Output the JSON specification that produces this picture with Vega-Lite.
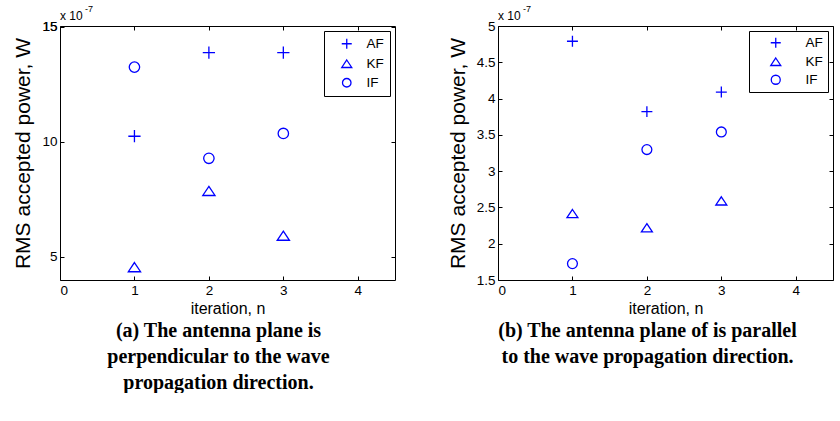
{
  "$schema": "https://vega.github.io/schema/vega-lite/v6.json",
  "padding": {"left": 12, "top": 4, "right": 0, "bottom": 0},
  "background": "white",
  "datasets": {
    "a": [
      {"n": 1, "series": "AF", "power": 10.24},
      {"n": 2, "series": "AF", "power": 13.88},
      {"n": 3, "series": "AF", "power": 13.88},
      {"n": 1, "series": "KF", "power": 4.54},
      {"n": 2, "series": "KF", "power": 7.86},
      {"n": 3, "series": "KF", "power": 5.91},
      {"n": 1, "series": "IF", "power": 13.25},
      {"n": 2, "series": "IF", "power": 9.28},
      {"n": 3, "series": "IF", "power": 10.36}
    ],
    "b": [
      {"n": 1, "series": "AF", "power": 4.79},
      {"n": 2, "series": "AF", "power": 3.82},
      {"n": 3, "series": "AF", "power": 4.09},
      {"n": 1, "series": "KF", "power": 2.415},
      {"n": 2, "series": "KF", "power": 2.22},
      {"n": 3, "series": "KF", "power": 2.59},
      {"n": 1, "series": "IF", "power": 1.726},
      {"n": 2, "series": "IF", "power": 3.297},
      {"n": 3, "series": "IF", "power": 3.54}
    ],
    "exp": [{"base": "x 10", "sup": "-7"}]
  },
  "config": {
    "view": {"stroke": "black", "strokeWidth": 1},
    "font": "Liberation Sans",
    "axis": {
      "domain": false,
      "grid": false,
      "tickColor": "black",
      "tickSize": -4,
      "labelColor": "black",
      "labelFont": "Liberation Sans",
      "labelFontSize": 13.5,
      "labelPadding": 7,
      "labelOverlap": false,
      "titleFont": "Liberation Sans",
      "titleFontWeight": "normal",
      "titleColor": "black"
    },
    "legend": {
      "strokeColor": "black",
      "fillColor": "white",
      "labelFont": "Liberation Sans",
      "labelFontSize": 13.5,
      "labelColor": "black",
      "symbolStrokeWidth": 1.3,
      "cornerRadius": 0
    },
    "title": {
      "font": "Liberation Serif",
      "fontWeight": "bold",
      "fontSize": 20,
      "lineHeight": 26,
      "color": "black",
      "orient": "bottom",
      "anchor": "middle"
    },
    "concat": {"spacing": 50}
  },
  "resolve": {"scale": {"shape": "independent"}, "legend": {"shape": "independent"}},
  "hconcat": [
    {
      "width": 335,
      "height": 254,
      "title": {"text": ["(a) The antenna plane is", "perpendicular to the wave", "propagation direction."], "dx": -9, "offset": 4},
      "resolve": {"axis": {"x": "independent", "y": "independent"}},
      "layer": [
        {
          "data": {"name": "a"},
          "mark": {"type": "point", "filled": false, "color": "#0000ff", "strokeWidth": 1.3, "size": 150, "opacity": 1},
          "encoding": {
            "x": {"field": "n", "type": "quantitative", "scale": {"domain": [0, 4.5], "nice": false, "zero": false},
                  "axis": {"values": [0, 1, 2, 3, 4], "title": "iteration, n", "titleFontSize": 16, "titlePadding": 4}},
            "y": {"field": "power", "type": "quantitative", "scale": {"domain": [3.98, 15.04], "nice": false, "zero": false},
                  "axis": {"values": [5, 10, 15], "format": "d", "title": "RMS accepted power, W", "titleFontSize": 21, "titlePadding": 8}},
            "shape": {"field": "series", "type": "nominal",
                      "scale": {"domain": ["AF", "KF", "IF"], "range": ["M-1,0L1,0M0,-1L0,1", "M0,-0.75L1,0.75L-1,0.75Z", "M0.85,0A0.85,0.85 0 1,1 -0.85,0A0.85,0.85 0 1,1 0.85,0Z"]},
                      "legend": {"title": null, "orient": "top-right", "offset": 5, "padding": 6, "symbolOffset": 10, "labelOffset": 13, "rowPadding": 4}}
          }
        },
        {
          "data": {"name": "exp"},
          "mark": {"type": "text", "align": "left", "baseline": "bottom", "dy": -3, "fontSize": 12, "color": "black"},
          "encoding": {
            "x": {"datum": 0, "type": "quantitative", "axis": {"orient": "top", "values": [0, 1, 2, 3, 4], "labels": false, "title": null}},
            "y": {"datum": 15.04, "type": "quantitative", "axis": {"orient": "left", "values": [15], "format": "d", "ticks": false, "labelPadding": 3, "title": null}},
            "text": {"field": "base"}
          }
        },
        {
          "data": {"name": "exp"},
          "mark": {"type": "text", "align": "left", "baseline": "bottom", "dx": 25, "dy": -12, "fontSize": 9, "color": "black"},
          "encoding": {
            "x": {"datum": 0, "type": "quantitative", "axis": null},
            "y": {"datum": 15.04, "type": "quantitative", "axis": {"orient": "right", "values": [5, 10, 15], "labels": false, "title": null}},
            "text": {"field": "sup"}
          }
        }
      ]
    },
    {
      "width": 335,
      "height": 254,
      "title": {"text": ["(b) The antenna plane of is parallel", "to the wave propagation direction."], "dx": -18, "offset": 4},
      "resolve": {"axis": {"x": "independent", "y": "independent"}},
      "layer": [
        {
          "data": {"name": "b"},
          "mark": {"type": "point", "filled": false, "color": "#0000ff", "strokeWidth": 1.3, "size": 120, "opacity": 1},
          "encoding": {
            "x": {"field": "n", "type": "quantitative", "scale": {"domain": [0, 4.5], "nice": false, "zero": false},
                  "axis": {"values": [0, 1, 2, 3, 4], "title": "iteration, n", "titleFontSize": 16, "titlePadding": 4}},
            "y": {"field": "power", "type": "quantitative", "scale": {"domain": [1.5, 5], "nice": false, "zero": false},
                  "axis": {"values": [1.5, 2, 2.5, 3, 3.5, 4, 4.5, 5], "format": "~g", "title": "RMS accepted power, W", "titleFontSize": 21, "titlePadding": 8}},
            "shape": {"field": "series", "type": "nominal",
                      "scale": {"domain": ["AF", "KF", "IF"], "range": ["M-1,0L1,0M0,-1L0,1", "M0,-0.75L1,0.75L-1,0.75Z", "M0.9,0A0.9,0.9 0 1,1 -0.9,0A0.9,0.9 0 1,1 0.9,0Z"]},
                      "legend": {"title": null, "orient": "top-right", "offset": 5, "padding": 5, "symbolOffset": 15, "labelOffset": 23, "rowPadding": 3}}
          }
        },
        {
          "data": {"name": "exp"},
          "mark": {"type": "text", "align": "left", "baseline": "bottom", "dy": -3, "fontSize": 12, "color": "black"},
          "encoding": {
            "x": {"datum": 0, "type": "quantitative", "axis": {"orient": "top", "values": [0, 1, 2, 3, 4], "labels": false, "title": null}},
            "y": {"datum": 5, "type": "quantitative", "axis": {"orient": "right", "values": [1.5, 2, 2.5, 3, 3.5, 4, 4.5, 5], "labels": false, "title": null}},
            "text": {"field": "base"}
          }
        },
        {
          "data": {"name": "exp"},
          "mark": {"type": "text", "align": "left", "baseline": "bottom", "dx": 25, "dy": -12, "fontSize": 9, "color": "black"},
          "encoding": {
            "x": {"datum": 0, "type": "quantitative", "axis": null},
            "y": {"datum": 5, "type": "quantitative", "axis": null},
            "text": {"field": "sup"}
          }
        }
      ]
    }
  ]
}
